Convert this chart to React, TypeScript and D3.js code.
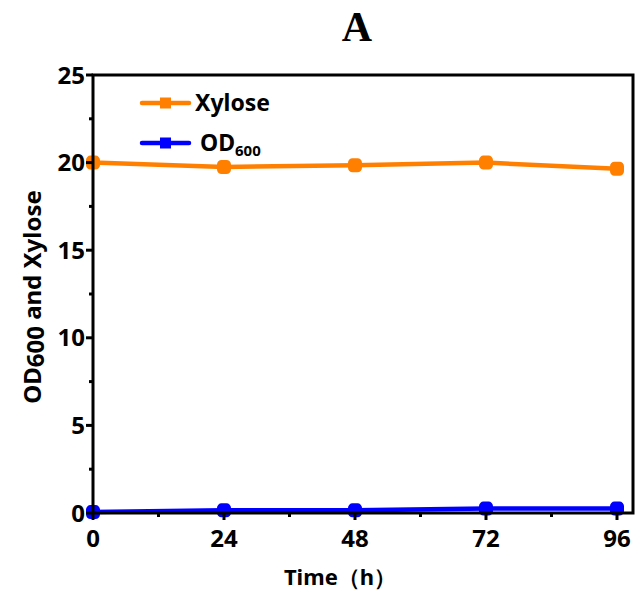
import React from "react";
import * as d3 from "d3";

const times = [0, 24, 48, 72, 96];
const xylose = [20.0, 19.75, 19.85, 20.0, 19.65];
const od600 = [0.05, 0.15, 0.15, 0.25, 0.25];
const xTicks = [0, 24, 48, 72, 96];
const xMinor = [12, 36, 60, 84];
const yTicks = [0, 5, 10, 15, 20, 25];
const yMinor = [2.5, 7.5, 12.5, 17.5, 22.5];

const W = 637, H = 595;
const L = 93, R = 633, T = 75, B = 513;
const FONT = "'Noto Sans', 'Open Sans', sans-serif";
const ORANGE = "#FF8000";
const BLUE = "#0000FF";

export default function App() {
  const x = d3.scaleLinear().domain([0, 96]).range([L, 617]);
  const y = d3.scaleLinear().domain([0, 25]).range([B, T]);
  const line = d3.line<number>().x((_, i) => x(times[i])).y((d) => y(d));

  const series = [
    { data: od600, color: BLUE },
    { data: xylose, color: ORANGE },
  ];

  return (
    <svg width={W} height={H} style={{ position: "absolute", left: 0, top: 0 }}>
      <rect width={W} height={H} fill="#fff" />
      <text x={357} y={41} textAnchor="middle" fontFamily="'Liberation Serif', 'DejaVu Serif', serif" fontWeight="bold" fontSize={42}>A</text>
      {series.map((s, k) => (
        <g key={k}>
          <path d={line(s.data) || ""} fill="none" stroke={s.color} strokeWidth={4.5} strokeLinejoin="round" />
          {s.data.map((v, i) => (
            <rect key={i} x={x(times[i]) - 5.5} y={y(v) - 5.5} width={11} height={11} rx={3} fill={s.color} stroke={s.color} strokeWidth={3} strokeLinejoin="round" />
          ))}
        </g>
      ))}
      <rect x={L} y={T} width={R - L} height={B - T} fill="none" stroke="#000" strokeWidth={3} />
      {yTicks.map((t) => (
        <g key={"y" + t}>
          <line x1={L - 7} x2={L} y1={y(t)} y2={y(t)} stroke="#000" strokeWidth={3} />
          <text x={L - 8} y={y(t)} dy="0.36em" textAnchor="end" fontFamily={FONT} fontWeight="bold" fontSize={24} style={{ fontStretch: "condensed" }}>{t}</text>
        </g>
      ))}
      {yMinor.map((t) => (
        <line key={"ym" + t} x1={L - 4} x2={L} y1={y(t)} y2={y(t)} stroke="#000" strokeWidth={3} />
      ))}
      {xTicks.map((t) => (
        <g key={"x" + t}>
          <line x1={x(t)} x2={x(t)} y1={B} y2={B + 7} stroke="#000" strokeWidth={3} />
          <text x={x(t)} y={B + 34} textAnchor="middle" fontFamily={FONT} fontWeight="bold" fontSize={24} style={{ fontStretch: "condensed" }}>{t}</text>
        </g>
      ))}
      {xMinor.map((t) => (
        <line key={"xm" + t} x1={x(t)} x2={x(t)} y1={B} y2={B + 4} stroke="#000" strokeWidth={3} />
      ))}
      <text x={340} y={585} textAnchor="middle" fontFamily={FONT} fontWeight="bold" fontSize={22}>Time（h）</text>
      <text transform="translate(41,297) rotate(-90)" textAnchor="middle" fontFamily={FONT} fontWeight="bold" fontSize={24}>
        OD<tspan dy={3}>600</tspan><tspan dy={-3}> and Xylose</tspan>
      </text>
      {/* legend */}
      <g>
        <line x1={142} x2={189} y1={103} y2={103} stroke={ORANGE} strokeWidth={4.5} strokeLinecap="round" />
        <rect x={160} y={97.5} width={11} height={11} fill={ORANGE} />
        <text x={195} y={103} dy="0.36em" fontFamily={FONT} fontWeight="bold" fontSize={23}>Xylose</text>
        <line x1={142} x2={189} y1={143} y2={143} stroke={BLUE} strokeWidth={4.5} strokeLinecap="round" />
        <rect x={160} y={137.5} width={11} height={11} fill={BLUE} />
        <text x={200} y={143} dy="0.36em" fontFamily={FONT} fontWeight="bold" fontSize={23}>
          OD<tspan fontSize={15} dy={5}>600</tspan>
        </text>
      </g>
    </svg>
  );
}
